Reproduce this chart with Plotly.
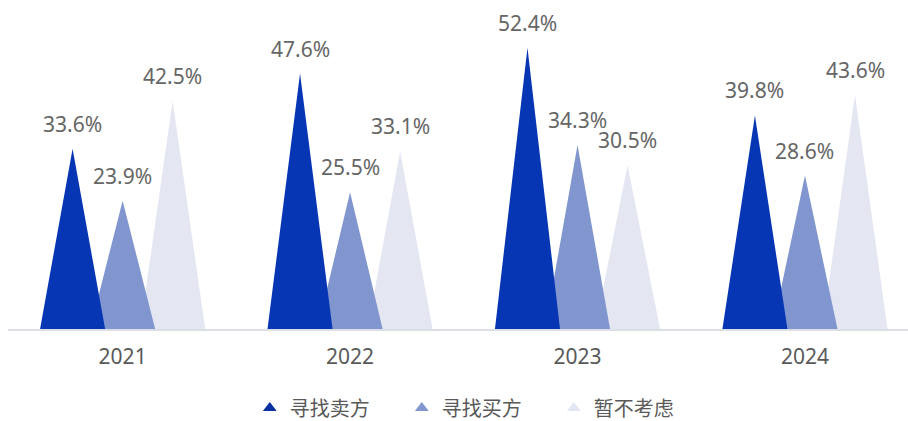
import plotly.graph_objects as go

# Survey shares (%) by year
years = ["2021", "2022", "2023", "2024"]
series_names = ["寻找卖方", "寻找买方", "暂不考虑"]
seek_seller = [33.6, 47.6, 52.4, 39.8]
seek_buyer = [23.9, 25.5, 34.3, 28.6]
not_now = [42.5, 33.1, 30.5, 43.6]

series_values = [seek_seller, seek_buyer, not_now]
fill_colors = ["#0636b4", "#8196cf", "#e4e6f2"]
legend_colors = ["#0a2f9e", "#8296cf", "#e3e6f3"]
offsets = [-0.22, 0.0, 0.22]
half_w = 0.143

font_family = "Noto Sans, Noto Sans CJK SC, sans-serif"
label_color = "#666666"

fig = go.Figure()

# Draw back-to-front so the darker spikes sit on top
for idx in [2, 1, 0]:
    vals = series_values[idx]
    xs, ys = [], []
    for i, v in enumerate(vals):
        cx = i + offsets[idx]
        xs += [cx - half_w, cx, cx + half_w, cx - half_w, None]
        ys += [0, v, 0, 0, None]
    fig.add_trace(go.Scatter(
        x=xs, y=ys, mode="lines", fill="toself",
        fillcolor=fill_colors[idx], line=dict(width=0, color=fill_colors[idx]),
        showlegend=False, hoverinfo="skip",
    ))

# Value labels above each apex
for idx, vals in enumerate(series_values):
    for i, v in enumerate(vals):
        fig.add_annotation(
            x=i + offsets[idx], y=v, text=f"{v:.1f}%", showarrow=False,
            yanchor="middle", yshift=25,
            font=dict(size=21, color=label_color, family=font_family),
        )

# Legend entries with triangle markers
for idx, name in enumerate(series_names):
    fig.add_trace(go.Scatter(
        x=[None], y=[None], mode="markers", name=name,
        marker=dict(symbol="triangle-up", size=15, color=legend_colors[idx]),
    ))

fig.update_layout(
    width=908, height=421,
    margin=dict(l=8, r=0, t=7, b=92, autoexpand=False),
    paper_bgcolor="white", plot_bgcolor="white",
    font=dict(family=font_family, color="#595959", size=20),
    xaxis=dict(
        range=[-0.504, 3.453], tickvals=[0, 1, 2, 3], ticktext=years,
        showgrid=False, zeroline=False, showline=True, linecolor="#dcdee6",
        linewidth=2, ticks="", ticklabelstandoff=8,
        tickfont=dict(size=21, color="#595959"),
        fixedrange=True,
    ),
    yaxis=dict(range=[0, 60], visible=False, fixedrange=True),
    legend=dict(
        orientation="h", x=0.522, xanchor="center", y=-0.245, yanchor="middle",
        font=dict(size=20, color="#595959"),
        entrywidth=107, itemsizing="constant", traceorder="normal",
        borderwidth=0,
    ),
    showlegend=True,
)

fig.write_html("out.html")
